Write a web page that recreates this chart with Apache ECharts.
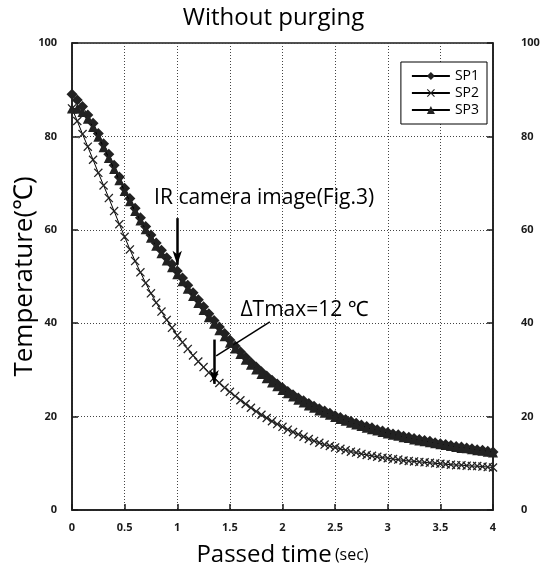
<!DOCTYPE html>
<html>
<head>
<meta charset="utf-8">
<title>Without purging</title>
<script src="https://cdn.jsdelivr.net/npm/echarts@6/dist/echarts.min.js"></script>
<style>
	html, body { margin: 0; padding: 0; background: #fff; }
	#main { width: 547px; height: 569px; }
</style>
</head>
<body>
<div id="main"></div>
<script>
// time axis (sec), one sample every 0.05 s
var times = [0, 0.05, 0.1, 0.15, 0.2, 0.25, 0.3, 0.35, 0.4, 0.45,
	0.5, 0.55, 0.6, 0.65, 0.7, 0.75, 0.8, 0.85, 0.9, 0.95,
	1, 1.05, 1.1, 1.15, 1.2, 1.25, 1.3, 1.35, 1.4, 1.45,
	1.5, 1.55, 1.6, 1.65, 1.7, 1.75, 1.8, 1.85, 1.9, 1.95,
	2, 2.05, 2.1, 2.15, 2.2, 2.25, 2.3, 2.35, 2.4, 2.45,
	2.5, 2.55, 2.6, 2.65, 2.7, 2.75, 2.8, 2.85, 2.9, 2.95,
	3, 3.05, 3.1, 3.15, 3.2, 3.25, 3.3, 3.35, 3.4, 3.45,
	3.5, 3.55, 3.6, 3.65, 3.7, 3.75, 3.8, 3.85, 3.9, 3.95, 4];

// temperatures (℃)
var sp1 = [89.0, 87.8, 86.4, 84.6, 82.8, 80.6, 78.4, 76.2, 73.8, 71.3,
	68.9, 66.7, 64.6, 62.6, 60.7, 58.9, 57.2, 55.6, 54.0, 52.6,
	51.2, 49.7, 48.1, 46.5, 45.0, 43.5, 42.0, 40.6, 39.2, 37.8,
	36.4, 35.1, 33.9, 32.7, 31.6, 30.6, 29.6, 28.7, 27.8, 27.0,
	26.2, 25.4, 24.7, 24.0, 23.4, 22.8, 22.2, 21.7, 21.2, 20.7,
	20.2, 19.8, 19.4, 19.0, 18.6, 18.2, 17.9, 17.6, 17.2, 16.9,
	16.6, 16.3, 16.1, 15.8, 15.6, 15.3, 15.1, 14.9, 14.7, 14.4,
	14.2, 14.0, 13.8, 13.6, 13.5, 13.3, 13.1, 12.9, 12.8, 12.6, 12.4];

var sp2 = [86.0, 83.3, 80.5, 77.8, 75.0, 72.2, 69.5, 66.8, 64.0, 61.2,
	58.5, 55.8, 53.3, 50.9, 48.6, 46.4, 44.4, 42.5, 40.7, 39.0,
	37.4, 35.9, 34.5, 33.1, 31.8, 30.6, 29.4, 28.3, 27.2, 26.2,
	25.3, 24.4, 23.5, 22.7, 21.9, 21.1, 20.4, 19.7, 19.0, 18.4,
	17.8, 17.2, 16.7, 16.2, 15.7, 15.2, 14.8, 14.4, 14.0, 13.7,
	13.4, 13.1, 12.8, 12.5, 12.3, 12.0, 11.8, 11.6, 11.4, 11.2,
	11.1, 10.9, 10.8, 10.6, 10.5, 10.4, 10.3, 10.2, 10.1, 10.0,
	9.9, 9.8, 9.7, 9.6, 9.6, 9.5, 9.4, 9.4, 9.3, 9.2, 9.1];

var sp3 = [86.0, 85.9, 85.2, 83.8, 82.0, 79.9, 77.7, 75.4, 73.0, 70.6,
	68.3, 66.1, 64.0, 62.0, 60.1, 58.3, 56.6, 55.0, 53.4, 52.0,
	50.5, 49.0, 47.4, 45.8, 44.3, 42.8, 41.3, 39.9, 38.5, 37.2,
	35.8, 34.6, 33.4, 32.2, 31.1, 30.1, 29.1, 28.2, 27.3, 26.5,
	25.7, 25.0, 24.3, 23.6, 23.0, 22.4, 21.9, 21.3, 20.8, 20.4,
	19.9, 19.5, 19.1, 18.7, 18.3, 18.0, 17.6, 17.3, 17.0, 16.7,
	16.4, 16.1, 15.9, 15.6, 15.4, 15.1, 14.9, 14.7, 14.5, 14.3,
	14.1, 13.9, 13.7, 13.5, 13.3, 13.2, 13.0, 12.8, 12.7, 12.5, 12.3];

var legendData = ['SP1', 'SP2', 'SP3'];
var xTicks = ['0', '0.5', '1', '1.5', '2', '2.5', '3', '3.5', '4'];

function pairs(vals) {
	var out = [];
	times.forEach(function(t, i) {
		out.push([t, vals[i]]);
	});
	return out;
}

var font = '"Open Sans", "Noto Sans", sans-serif';
var ink = '#1a1a1a';
var crossPath = 'path://M0,1L1,0L5,4L9,0L10,1L6,5L10,9L9,10L5,6L1,10L0,9L4,5Z';

var myChart = echarts.init(document.getElementById('main'));

var yAxisBase = {
	type: 'value',
	min: 0,
	max: 100,
	interval: 20,
	axisLine: { show: true, lineStyle: { color: ink, width: 1.5 } },
	axisTick: { show: true, inside: true, length: 6, lineStyle: { color: ink, width: 1.5 } },
	axisLabel: { color: ink, fontSize: 11, fontWeight: 'bold', fontFamily: font }
};

var option = {
	backgroundColor: '#fff',
	animation: false,
	title: {
		text: 'Without purging',
		left: 'center',
		top: 1,
		textStyle: { fontSize: 24, fontWeight: 'normal', color: '#000', fontFamily: font }
	},
	grid: {
		left: 72,
		right: 54,
		top: 43,
		bottom: 59,
		outerBoundsMode: 'none',
		show: true,
		borderColor: ink,
		borderWidth: 1.5
	},
	legend: {
		data: legendData,
		orient: 'vertical',
		right: 60,
		top: 62,
		backgroundColor: '#fff',
		borderColor: '#000',
		borderWidth: 1,
		padding: [7, 8, 7, 10],
		itemGap: 3,
		itemWidth: 38,
		itemHeight: 10,
		textStyle: { fontSize: 14, color: '#000', fontFamily: font }
	},
	xAxis: {
		type: 'value',
		min: 0,
		max: 4,
		interval: 0.5,
		name: '{a|Passed time} {b|(sec)}',
		nameLocation: 'middle',
		nameGap: 33,
		nameTextStyle: {
			color: '#000',
			fontFamily: font,
			rich: {
				a: { fontSize: 24, fontFamily: font, color: '#000' },
				b: { fontSize: 16, fontFamily: font, color: '#000' }
			}
		},
		axisLine: { lineStyle: { color: ink, width: 1.5 } },
		axisTick: { inside: true, length: 6, lineStyle: { color: ink, width: 1.5 } },
		axisLabel: {
			color: ink, fontSize: 11, fontWeight: 'bold', fontFamily: font, margin: 12,
			formatter: function(v) { return xTicks[Math.round(v * 2)]; }
		},
		splitLine: { show: true, lineStyle: { color: '#444', type: [1, 2], width: 1 } }
	},
	yAxis: [
		echarts.util.merge({
			position: 'left',
			name: 'Temperature(℃)',
			nameLocation: 'middle',
			nameGap: 34,
			nameMoveOverlap: false,
			nameTextStyle: { fontSize: 26, color: '#000', fontFamily: font },
			axisLabel: { margin: 15 },
			splitLine: { show: true, lineStyle: { color: '#444', type: [1, 2], width: 1 } }
		}, yAxisBase, false),
		echarts.util.merge({
			position: 'right',
			axisLabel: { margin: 28 },
			splitLine: { show: false }
		}, yAxisBase, false)
	],
	series: [{
		name: 'SP1',
		type: 'line',
		data: pairs(sp1),
		symbol: 'diamond',
		symbolSize: 11,
		itemStyle: { color: '#222' },
		lineStyle: { color: '#000', width: 1 },
		z: 4
	}, {
		name: 'SP2',
		type: 'line',
		data: pairs(sp2),
		symbol: crossPath,
		symbolSize: 9,
		itemStyle: { color: '#222' },
		lineStyle: { color: '#000', width: 1 },
		z: 3,
		markLine: {
			silent: true,
			symbol: ['none', 'none'],
			label: { show: false },
			lineStyle: { color: '#000', type: 'solid', width: 1.5 },
			data: [
				// IR camera arrow
				[{ coord: [1.0, 62.5], symbol: 'none' }, { coord: [1.0, 52.5], symbol: 'arrow', symbolSize: [7, 14], lineStyle: { width: 2.5 } }],
				// delta T arrow
				[{ coord: [1.35, 36.5], symbol: 'none' }, { coord: [1.35, 27], symbol: 'arrow', symbolSize: [7, 14], lineStyle: { width: 2.5 } }],
				// leader line to the text
				[{ coord: [1.88, 40.3], symbol: 'none' }, { coord: [1.37, 33.0], symbol: 'none' }]
			]
		}
	}, {
		name: 'SP3',
		type: 'line',
		data: pairs(sp3),
		symbol: 'triangle',
		symbolSize: 10,
		itemStyle: { color: '#222' },
		lineStyle: { color: '#000', width: 1 },
		z: 5
	}]
};

myChart.setOption(option);

// annotation texts, anchored in data coordinates
var pIR = myChart.convertToPixel({ xAxisIndex: 0, yAxisIndex: 0 }, [0.78, 66.0]);
var pDT = myChart.convertToPixel({ xAxisIndex: 0, yAxisIndex: 0 }, [1.6, 42.0]);
myChart.setOption({
	graphic: [{
		type: 'text',
		left: pIR[0],
		top: pIR[1] - 14,
		z: 10,
		style: { text: 'IR camera image(Fig.3)', fontSize: 21, fontFamily: font, fill: '#000' }
	}, {
		type: 'text',
		left: pDT[0],
		top: pDT[1] - 14,
		z: 10,
		style: { text: 'ΔTmax=12 ℃', fontSize: 21, fontFamily: font, fill: '#000' }
	}]
});
</script>
</body>
</html>
